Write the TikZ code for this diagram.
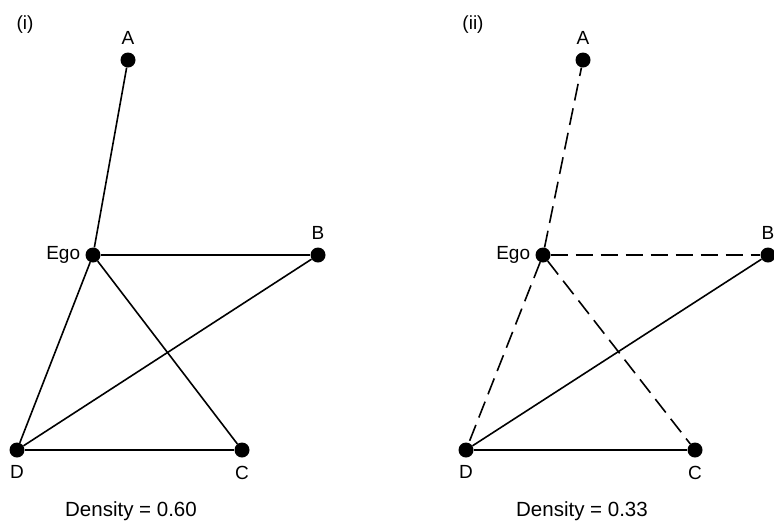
\documentclass[tikz,border=0pt]{standalone}
\usepackage{fontspec}
\setmainfont{Liberation Sans}
\usetikzlibrary{positioning}

\begin{document}
\begin{tikzpicture}[
  x=1pt, y=-1pt,
  font=\fontsize{19}{22}\selectfont,
  dot/.style={circle, fill=black, inner sep=0pt, minimum size=15pt},
  every label/.style={inner sep=0pt},
  label distance=8pt,
  tie/.style={draw=black, line width=1.6pt},
  weak/.style={tie, dash pattern=on 17pt off 8pt},
  dens/.style={font=\fontsize{20.5}{24}\selectfont}
]
\useasboundingbox (0,0) rectangle (774,523);

% ---- (i): every tie present
\node (t1) at (25,25) {(i)};
\node[dot, label=above:A] (a1) at (128,60) {};
\node[dot, label={[label distance=5pt]left:Ego}] (ego1) at (93,255) {};
\node[dot, label=above:B] (b1) at (318,255) {};
\node[dot, label=below:D] (d1) at (17,450) {};
\node[dot, label=below:C] (c1) at (242,450) {};

\foreach \a/\b in {ego1/a1, ego1/b1, ego1/d1, ego1/c1, d1/b1, d1/c1}
  \draw[tie] (\a) -- (\b);

\node[dens] (den1) at (131,511) {Density = 0.60};

% ---- (ii): ties to ego dashed
\node (t2) at (473,25) {(ii)};
\node[dot, label=above:A] (a2) at (583,60) {};
\node[dot, label={[label distance=5pt]left:Ego}] (ego2) at (543,255) {};
\node[dot, label=above:B] (b2) at (768,255) {};
\node[dot, label=below:D] (d2) at (466,450) {};
\node[dot, label=below:C] (c2) at (695,450) {};

\foreach \a/\b in {ego2/a2, ego2/b2, ego2/d2, ego2/c2}
  \draw[weak] (\a) -- (\b);
\foreach \a/\b in {d2/b2, d2/c2}
  \draw[tie] (\a) -- (\b);

\node[dens] (den2) at (582,511) {Density = 0.33};

\end{tikzpicture}
\end{document}
